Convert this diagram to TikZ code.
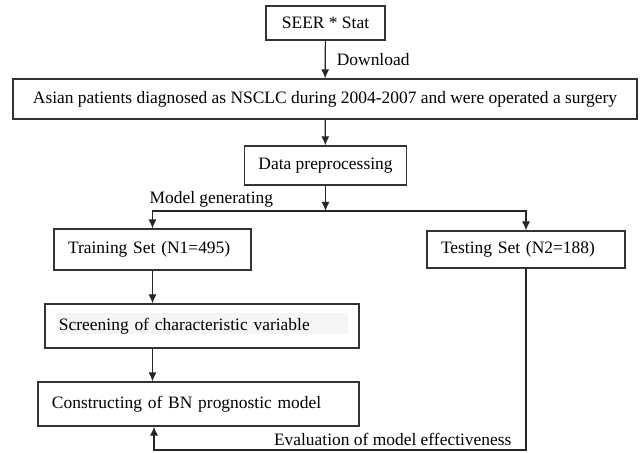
\documentclass[tikz,border=0pt]{standalone}
\usepackage{fontspec}
\setmainfont{Liberation Serif}
\usetikzlibrary{arrows.meta}

\tikzset{
  box/.style={draw=black!80, line width=1.2bp, inner xsep=14bp, inner ysep=0bp},
  flow/.style={draw=black!85, line width=1.2bp, -{Latex[length=9bp,width=8bp]}},
  tag/.style={inner sep=3.5bp},
}

\begin{document}
\begin{tikzpicture}[x=1bp, y=-1bp, font=\fontsize{17.5}{20}\selectfont]
  \useasboundingbox (0,0) rectangle (644,453);
  % data source and cohort
  \node[box, minimum width=119bp, minimum height=34bp] (seer) at (325.5,23) {SEER * Stat};
  \node[box, minimum width=624bp, minimum height=40bp] (cohort) at (325,99)
      {Asian patients diagnosed as NSCLC during 2004-2007 and were operated a surgery};
  \node[box, minimum width=161bp, minimum height=39bp] (prep) at (325.5,165.5) {Data preprocessing};
  % the two sets
  \node[box, text width=169bp, align=left, minimum height=41bp] (train) at (152.5,249.5) {Training Set (N1=495)};
  \node[box, text width=170bp, align=left, minimum height=37bp] (test) at (526,249.5) {Testing Set (N2=188)};
  \fill[black!4] (57,313) rectangle (348,334);% shaded text line
  \node[box, text width=286bp, align=left, minimum height=44bp] (screen) at (202,326) {Screening of characteristic variable};
  \node[box, text width=293bp, align=left, minimum height=44bp] (bnmodel) at (198.5,404) {Constructing of BN prognostic model};

  \coordinate (fork) at (325.5,211);
  \coordinate (back) at (154,450);

  \draw[flow] (seer) -- node[tag, right, xshift=7.5bp] {Download} (cohort);
  \draw[flow] (cohort) -- (prep);
  \draw[flow] (prep) -- (fork);
  \draw[flow] (fork) -| node[tag, above, pos=0.33] {Model generating} (train);
  \draw[flow] (fork) -| (test);
  \draw[flow] (train.south) -- (train.south |- screen.north);
  \draw[flow] (train.south |- screen.south) -- (train.south |- bnmodel.north);
  \draw[flow] (test) |- node[tag, above left, xshift=-10.5bp] {Evaluation of model effectiveness} (back)
      -- (back |- bnmodel.south);
\end{tikzpicture}
\end{document}
